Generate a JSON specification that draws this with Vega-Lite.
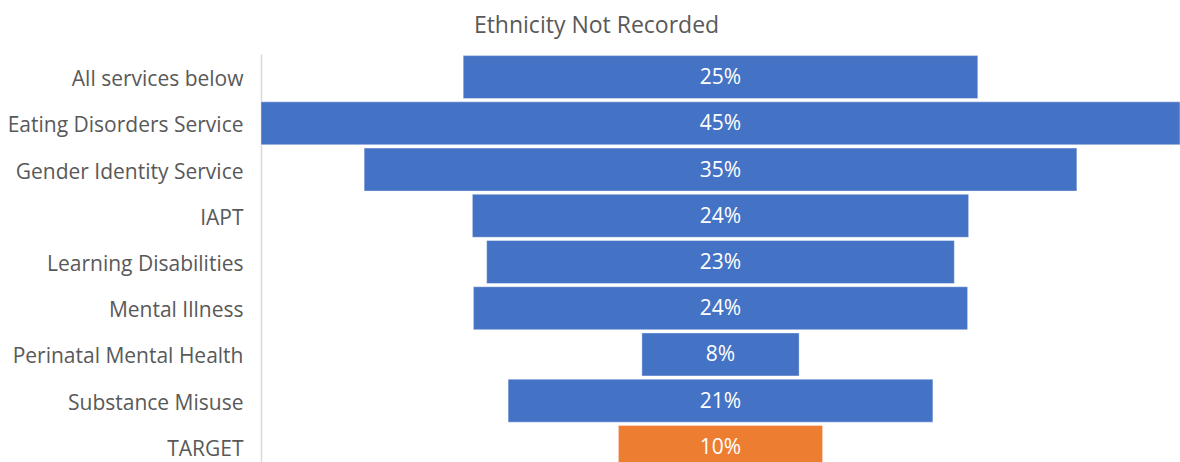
{
  "$schema": "https://vega.github.io/schema/vega-lite/v6.json",
  "autosize": "none",
  "padding": {"left": 261, "top": 54, "right": 0, "bottom": 0},
  "width": 919,
  "height": 416,
  "background": "white",
  "title": {
    "text": "Ethnicity Not Recorded",
    "anchor": "middle",
    "dx": -124,
    "offset": -2,
    "baseline": "alphabetic",
    "font": "Open Sans",
    "fontSize": 23,
    "fontWeight": "normal",
    "color": "#595959"
  },
  "config": {"view": {"stroke": null}},
  "data": {
    "values": [
      {"service": "All services below", "value": 0.252, "type": "service"},
      {"service": "Eating Disorders Service", "value": 0.45, "type": "service"},
      {"service": "Gender Identity Service", "value": 0.349, "type": "service"},
      {"service": "IAPT", "value": 0.243, "type": "service"},
      {"service": "Learning Disabilities", "value": 0.229, "type": "service"},
      {"service": "Mental Illness", "value": 0.242, "type": "service"},
      {"service": "Perinatal Mental Health", "value": 0.077, "type": "service"},
      {"service": "Substance Misuse", "value": 0.208, "type": "service"},
      {"service": "TARGET", "value": 0.1, "type": "target"}
    ]
  },
  "encoding": {
    "y": {
      "field": "service",
      "type": "nominal",
      "sort": null,
      "title": null,
      "scale": {"paddingInner": 0.07, "paddingOuter": 0.035},
      "axis": {
        "ticks": false,
        "domainColor": "#d9d9d9",
        "domainWidth": 1.5,
        "labelPadding": 18,
        "labelFont": "Open Sans",
        "labelFontSize": 21,
        "labelColor": "#595959",
        "labelLimit": 400,
        "labelOffset": 3
      }
    }
  },
  "layer": [
    {
      "mark": {"type": "bar", "stroke": "white", "strokeOpacity": 0.4, "strokeWidth": 1},
      "encoding": {
        "x": {
          "field": "value",
          "type": "quantitative",
          "stack": "center",
          "scale": {"domain": [0, 0.45], "nice": false, "zero": false},
          "axis": null
        },
        "color": {
          "field": "type",
          "type": "nominal",
          "scale": {"domain": ["service", "target"], "range": ["#4472C4", "#ED7D31"]},
          "legend": null
        }
      }
    },
    {
      "mark": {"type": "text", "color": "white", "font": "Open Sans", "fontSize": 21, "baseline": "middle", "align": "center", "dy": 1},
      "encoding": {
        "x": {"datum": 0.225, "type": "quantitative"},
        "text": {"field": "value", "type": "quantitative", "format": ".0%"}
      }
    }
  ]
}
